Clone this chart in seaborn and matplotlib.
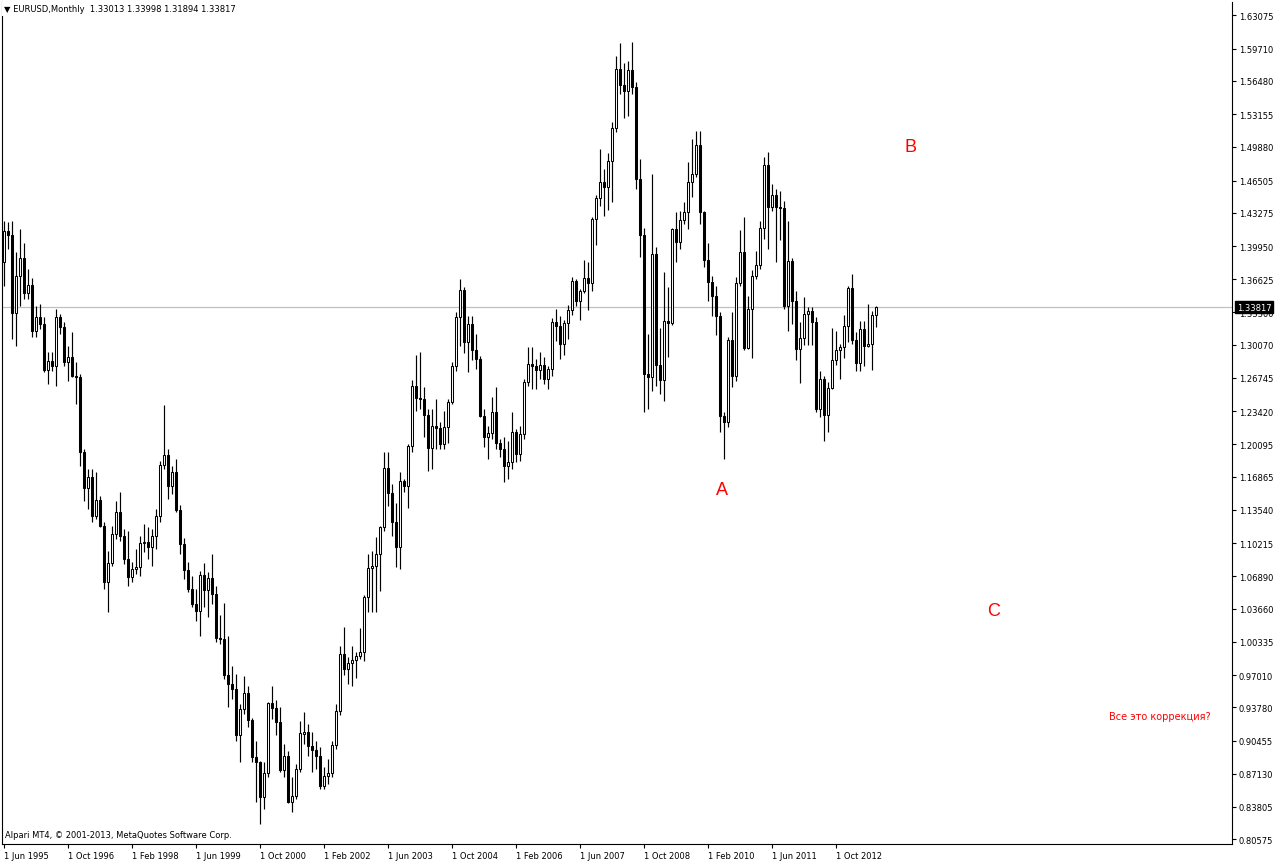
import numpy as np
import pandas as pd
import matplotlib
matplotlib.use("Agg")
import matplotlib.pyplot as plt
import matplotlib.transforms as mtransforms
import seaborn as sns

# ---- data (EURUSD monthly, Jun 1995 .. Aug 2013) ----
months = pd.date_range("1995-06-01", periods=219, freq="MS")

opens = [1.3836, 1.4146, 1.4106, 1.3325, 1.3695, 1.3876, 1.3525, 1.3605, 1.3145, 1.3285,
         1.3215, 1.2754, 1.2844, 1.2794, 1.3285, 1.3185, 1.2834, 1.2884, 1.2694, 1.2684,
         1.1933, 1.1573, 1.1683, 1.1293, 1.1453, 1.1193, 1.0632, 1.0822, 1.1113, 1.1333,
         1.1093, 1.0863, 1.0682, 1.0762, 1.0782, 1.1023, 1.1033, 1.0983, 1.1093, 1.1293,
         1.1803, 1.1904, 1.1593, 1.1733, 1.1353, 1.1013, 1.0752, 1.0562, 1.0412, 1.0342,
         1.0702, 1.0552, 1.0672, 1.0512, 1.0072, 1.0062, 0.9702, 0.9611, 0.9561, 0.9101,
         0.9361, 0.9521, 0.9251, 0.8880, 0.8830, 0.8480, 0.8720, 0.9421, 0.9371, 0.9231,
         0.8750, 0.8890, 0.8430, 0.8490, 0.8760, 0.9111, 0.9131, 0.8991, 0.8950, 0.8890,
         0.8590, 0.8690, 0.8720, 0.9001, 0.9341, 0.9912, 0.9762, 0.9822, 0.9852, 0.9892,
         0.9932, 1.0482, 1.0772, 1.0790, 1.0913, 1.1183, 1.1773, 1.1523, 1.1233, 1.0983,
         1.1643, 1.1593, 1.1994, 1.2594, 1.2474, 1.2460, 1.2304, 1.1974, 1.2194, 1.2174,
         1.2014, 1.2184, 1.2434, 1.2794, 1.3285, 1.3555, 1.3035, 1.3215, 1.2955, 1.2865,
         1.2294, 1.2084, 1.2124, 1.2334, 1.2024, 1.1964, 1.1793, 1.1833, 1.2134, 1.1913,
         1.2114, 1.2634, 1.2814, 1.2794, 1.2754, 1.2804, 1.2664, 1.2764, 1.3235, 1.3195,
         1.3015, 1.3225, 1.3355, 1.3645, 1.3445, 1.3545, 1.3675, 1.3625, 1.4266, 1.4476,
         1.4636, 1.4586, 1.4846, 1.5177, 1.5767, 1.5607, 1.5547, 1.5757, 1.5587, 1.4666,
         1.4106, 1.2714, 1.2684, 1.3916, 1.2804, 1.2654, 1.3245, 1.3225, 1.4166, 1.4036,
         1.4256, 1.4336, 1.4636, 1.4716, 1.5006, 1.4336, 1.3856, 1.3635, 1.3495, 1.3295,
         1.2294, 1.2234, 1.3055, 1.2694, 1.3625, 1.3936, 1.2975, 1.3365, 1.3695, 1.3805,
         1.4176, 1.4806, 1.4386, 1.4506, 1.4386, 1.4380, 1.3390, 1.3850, 1.3445, 1.2960,
         1.3079, 1.3318, 1.3344, 1.3235, 1.2363, 1.2664, 1.2300, 1.2578, 1.2859, 1.2955,
         1.2988, 1.3193, 1.3578, 1.3056, 1.2820, 1.3168, 1.2993, 1.3010, 1.33013]

highs = [1.4246, 1.4236, 1.4246, 1.3936, 1.4166, 1.4026, 1.3765, 1.3675, 1.3395, 1.3415,
         1.3285, 1.2935, 1.2935, 1.3365, 1.3315, 1.3235, 1.2995, 1.3135, 1.2834, 1.2714,
         1.1964, 1.1763, 1.1763, 1.1733, 1.1493, 1.1233, 1.0943, 1.1193, 1.1443, 1.1533,
         1.1163, 1.1143, 1.0832, 1.0963, 1.1093, 1.1213, 1.1183, 1.1163, 1.1363, 1.1843,
         1.2404, 1.1964, 1.1793, 1.1863, 1.1403, 1.1073, 1.0832, 1.0692, 1.0562, 1.0742,
         1.0822, 1.0732, 1.0913, 1.0592, 1.0302, 1.0422, 1.0092, 0.9792, 0.9712, 0.9411,
         0.9692, 0.9591, 0.9271, 0.9041, 0.8840, 0.8830, 0.9431, 0.9591, 0.9451, 0.9381,
         0.9011, 0.8940, 0.8680, 0.8810, 0.9241, 0.9331, 0.9211, 0.9131, 0.9041, 0.8981,
         0.8780, 0.8860, 0.9041, 0.9411, 0.9992, 1.0182, 0.9882, 0.9992, 0.9932, 1.0172,
         1.0502, 1.0913, 1.0943, 1.1083, 1.1193, 1.1933, 1.1933, 1.1613, 1.1423, 1.1733,
         1.1663, 1.2014, 1.2654, 1.2905, 1.2935, 1.2584, 1.2364, 1.2364, 1.2464, 1.2234,
         1.2344, 1.2464, 1.2834, 1.3335, 1.3665, 1.3585, 1.3295, 1.3295, 1.3115, 1.2895,
         1.2364, 1.2194, 1.2484, 1.2584, 1.2064, 1.2084, 1.2044, 1.2334, 1.2164, 1.2194,
         1.2664, 1.2985, 1.2985, 1.2865, 1.2935, 1.2885, 1.2794, 1.3275, 1.3365, 1.3295,
         1.3255, 1.3405, 1.3685, 1.3665, 1.3565, 1.3856, 1.3836, 1.4286, 1.4506, 1.4966,
         1.4766, 1.4926, 1.5237, 1.5897, 1.6028, 1.5827, 1.5847, 1.6038, 1.5637, 1.4866,
         1.4176, 1.3115, 1.4716, 1.3986, 1.3175, 1.3735, 1.3585, 1.4176, 1.4336, 1.4346,
         1.4436, 1.4836, 1.5067, 1.5147, 1.5147, 1.4345, 1.4026, 1.3695, 1.3595, 1.3335,
         1.2334, 1.3085, 1.3335, 1.3685, 1.4156, 1.4286, 1.3495, 1.3755, 1.3946, 1.4246,
         1.4886, 1.4936, 1.4616, 1.4566, 1.4549, 1.4450, 1.4247, 1.3877, 1.3548, 1.3234,
         1.3487, 1.3385, 1.3384, 1.3283, 1.2747, 1.2693, 1.2637, 1.3172, 1.3140, 1.3010,
         1.3308, 1.3600, 1.3711, 1.3131, 1.3243, 1.3243, 1.3417, 1.3345, 1.33998]

lows = [1.3595, 1.3966, 1.3065, 1.2995, 1.3395, 1.3465, 1.3465, 1.3085, 1.3085, 1.3165,
        1.2734, 1.2614, 1.2744, 1.2594, 1.3115, 1.2794, 1.2644, 1.2680, 1.2414, 1.1793,
        1.1443, 1.1363, 1.1233, 1.1263, 1.1183, 1.0562, 1.0332, 1.0792, 1.1063, 1.1043,
        1.0812, 1.0592, 1.0632, 1.0712, 1.0692, 1.0933, 1.0863, 1.0792, 1.0963, 1.1233,
        1.1763, 1.1463, 1.1513, 1.1333, 1.0913, 1.0662, 1.0532, 1.0382, 1.0242, 1.0092,
        1.0382, 1.0282, 1.0412, 1.0032, 1.0012, 0.9662, 0.9381, 0.9461, 0.9041, 0.8830,
        0.9311, 0.9181, 0.8830, 0.8430, 0.8210, 0.8360, 0.8680, 0.9261, 0.9101, 0.8730,
        0.8680, 0.8420, 0.8330, 0.8460, 0.8730, 0.9011, 0.8890, 0.8730, 0.8760, 0.8560,
        0.8560, 0.8610, 0.8680, 0.8961, 0.9301, 0.9702, 0.9611, 0.9591, 0.9671, 0.9862,
        0.9842, 1.0332, 1.0332, 1.0332, 1.0542, 1.1143, 1.1393, 1.1093, 1.0782, 1.0762,
        1.1533, 1.1373, 1.1933, 1.2344, 1.2364, 1.2084, 1.1743, 1.1763, 1.1964, 1.1964,
        1.1964, 1.2024, 1.2414, 1.2744, 1.2995, 1.2925, 1.2734, 1.2855, 1.2764, 1.2284,
        1.1984, 1.1863, 1.2064, 1.1964, 1.1883, 1.1633, 1.1663, 1.1763, 1.1833, 1.1843,
        1.2064, 1.2594, 1.2564, 1.2564, 1.2664, 1.2614, 1.2564, 1.2694, 1.3045, 1.2865,
        1.2905, 1.3065, 1.3305, 1.3395, 1.3255, 1.3525, 1.3355, 1.3545, 1.4006, 1.4396,
        1.4296, 1.4356, 1.4436, 1.5137, 1.5517, 1.5277, 1.5297, 1.5517, 1.4566, 1.3886,
        1.2334, 1.2364, 1.2544, 1.2594, 1.2514, 1.2444, 1.2885, 1.3205, 1.3836, 1.3966,
        1.4216, 1.4166, 1.4486, 1.4686, 1.4216, 1.3785, 1.3445, 1.3295, 1.3105, 1.2134,
        1.1863, 1.2184, 1.2584, 1.2644, 1.3595, 1.2950, 1.2960, 1.2875, 1.3665, 1.3765,
        1.4066, 1.3966, 1.4346, 1.3836, 1.4051, 1.3361, 1.3146, 1.3213, 1.2858, 1.2624,
        1.3000, 1.3003, 1.3003, 1.2335, 1.2288, 1.2042, 1.2132, 1.2563, 1.2802, 1.2662,
        1.2877, 1.3039, 1.3015, 1.2745, 1.2745, 1.2795, 1.2985, 1.2755, 1.31894]

closes = [1.4146, 1.4106, 1.3325, 1.3695, 1.3876, 1.3525, 1.3605, 1.3145, 1.3285, 1.3215,
          1.2754, 1.2844, 1.2794, 1.3285, 1.3185, 1.2834, 1.2884, 1.2694, 1.2684, 1.1933,
          1.1573, 1.1683, 1.1293, 1.1453, 1.1193, 1.0632, 1.0822, 1.1113, 1.1333, 1.1093,
          1.0863, 1.0682, 1.0762, 1.0782, 1.1023, 1.1033, 1.0983, 1.1093, 1.1293, 1.1803,
          1.1904, 1.1593, 1.1733, 1.1353, 1.1013, 1.0752, 1.0562, 1.0412, 1.0342, 1.0702,
          1.0552, 1.0672, 1.0512, 1.0072, 1.0062, 0.9702, 0.9611, 0.9561, 0.9101, 0.9361,
          0.9521, 0.9251, 0.8880, 0.8830, 0.8480, 0.8720, 0.9421, 0.9371, 0.9231, 0.8750,
          0.8890, 0.8430, 0.8490, 0.8760, 0.9121, 0.9131, 0.8991, 0.8950, 0.8890, 0.8590,
          0.8690, 0.8720, 0.9001, 0.9341, 0.9912, 0.9762, 0.9822, 0.9852, 0.9892, 0.9932,
          1.0482, 1.0772, 1.0790, 1.0913, 1.1183, 1.1773, 1.1523, 1.1233, 1.0983, 1.1643,
          1.1593, 1.1994, 1.2594, 1.2474, 1.2460, 1.2304, 1.1974, 1.2194, 1.2174, 1.2014,
          1.2184, 1.2434, 1.2794, 1.3285, 1.3555, 1.3035, 1.3215, 1.2955, 1.2865, 1.2294,
          1.2084, 1.2124, 1.2334, 1.2024, 1.1964, 1.1793, 1.1833, 1.2134, 1.1913, 1.2114,
          1.2634, 1.2814, 1.2794, 1.2754, 1.2804, 1.2664, 1.2764, 1.3235, 1.3195, 1.3015,
          1.3225, 1.3355, 1.3645, 1.3445, 1.3545, 1.3675, 1.3625, 1.4266, 1.4476, 1.4636,
          1.4586, 1.4846, 1.5177, 1.5767, 1.5607, 1.5547, 1.5757, 1.5587, 1.4666, 1.4106,
          1.2714, 1.2684, 1.3916, 1.2804, 1.2654, 1.3245, 1.3225, 1.4166, 1.4036, 1.4256,
          1.4336, 1.4636, 1.4716, 1.5006, 1.4336, 1.3856, 1.3635, 1.3495, 1.3295, 1.2294,
          1.2234, 1.3055, 1.2694, 1.3625, 1.3936, 1.2975, 1.3365, 1.3695, 1.3805, 1.4176,
          1.4806, 1.4386, 1.4506, 1.4386, 1.4380, 1.3390, 1.3850, 1.3445, 1.2960, 1.3079,
          1.3318, 1.3344, 1.3235, 1.2363, 1.2664, 1.2300, 1.2578, 1.2859, 1.2955, 1.2988,
          1.3193, 1.3578, 1.3056, 1.2820, 1.3168, 1.2993, 1.3010, 1.3301, 1.33817]

price_ticks = [1.63075, 1.59710, 1.56480, 1.53155, 1.49880, 1.46505, 1.43275, 1.39950,
               1.36625, 1.33300, 1.30070, 1.26745, 1.23420, 1.20095, 1.16865, 1.13540,
               1.10215, 1.06890, 1.03660, 1.00335, 0.97010, 0.93780, 0.90455, 0.87130,
               0.83805, 0.80575]

bid_price = 1.33817
header = "\u25bc EURUSD,Monthly  1.33013 1.33998 1.31894 1.33817"
footer = "Alpari MT4, \u00a9 2001-2013, MetaQuotes Software Corp."
wave_labels = ["A", "B", "C"]
note = "Все это коррекция?"

# ---- frame ----
df = pd.DataFrame({"month": months, "open": opens, "high": highs,
                   "low": lows, "close": closes})
df["idx"] = np.arange(len(df))
df["bull"] = df["close"] >= df["open"]

sns.set_theme(style="white")
plt.rcParams["font.family"] = ["DejaVu Sans"]

W, H = 1276, 862
fig = plt.figure(figsize=(W / 100, H / 100), dpi=100)
fig.patch.set_facecolor("white")
ax = fig.add_axes([2 / W, 1 - 845 / H, 1230 / W, 842 / H])
ax.set_facecolor("white")

# bid line
ax.axhline(bid_price, color="#c0c0c0", lw=0.9, zorder=0)

# wicks
ax.vlines(df["idx"], df["low"], df["high"], color="black", lw=0.85, zorder=1)

# bodies
body_w = 0.55
bull = df[df["bull"]]
bear = df[~df["bull"]]
ax.bar(bull["idx"], (bull["close"] - bull["open"]).clip(lower=0.0006),
       bottom=bull["open"], width=body_w, color="white", edgecolor="black",
       linewidth=0.75, zorder=2)
ax.bar(bear["idx"], (bear["open"] - bear["close"]).clip(lower=0.0006),
       bottom=bear["close"], width=body_w, color="black", edgecolor="black",
       linewidth=0.75, zorder=2)

# limits
y_top = 1.6468 - 0.001001 * 3
y_bot = 1.6468 - 0.001001 * 845
ax.set_xlim(-0.5, 307)
ax.set_ylim(y_bot, y_top)

# y axis on the right
ax.yaxis.tick_right()
ax.set_yticks(price_ticks)
ax.set_yticklabels([f"{t:.5f}" for t in price_ticks])
ax.tick_params(axis="y", direction="out", length=3, width=0.8, colors="black",
               labelsize=6, pad=2, right=True, left=False)

# x axis date labels
xt = df["idx"].values[::16]
ax.set_xticks(xt)
ax.set_xticklabels([f"1 {m:%b %Y}" for m in df["month"].iloc[::16]])
ax.tick_params(axis="x", direction="out", length=3, width=0.8, colors="black",
               labelsize=6, pad=2, bottom=True)
for lab in ax.get_xticklabels():
    lab.set_horizontalalignment("left")

for s in ax.spines.values():
    s.set_color("black")
    s.set_linewidth(0.8)
ax.spines["top"].set_visible(False)

# bid label box
trans = mtransforms.blended_transform_factory(ax.transAxes, ax.transData)
ax.text(1.004, bid_price, f"{bid_price:.5f}", transform=trans, color="white",
        fontsize=6, ha="left", va="center", zorder=10,
        bbox=dict(facecolor="black", edgecolor="black", pad=1.2))

# header / footer
fig.text(4 / W, 1 - 10 / H, header, fontsize=6, color="black", ha="left", va="center",
         bbox=dict(facecolor="white", edgecolor="none", pad=1.5))
fig.text(5 / W, 1 - 836 / H, footer, fontsize=6, color="black", ha="left", va="center")

# wave annotations
ax.text(179.5, 1.1563, wave_labels[0], color="red", fontsize=13, ha="center",
        va="center", family=["Liberation Sans", "DejaVu Sans"])
ax.text(226.5, 1.4987, wave_labels[1], color="red", fontsize=13, ha="center",
        va="center", family=["Liberation Sans", "DejaVu Sans"])
ax.text(247.5, 1.0342, wave_labels[2], color="red", fontsize=13, ha="center",
        va="center", family=["Liberation Sans", "DejaVu Sans"])
ax.text(289.0, 0.9291, note, color="red", fontsize=7, ha="center", va="center")

fig.savefig("out.png", dpi=100, facecolor="white")
